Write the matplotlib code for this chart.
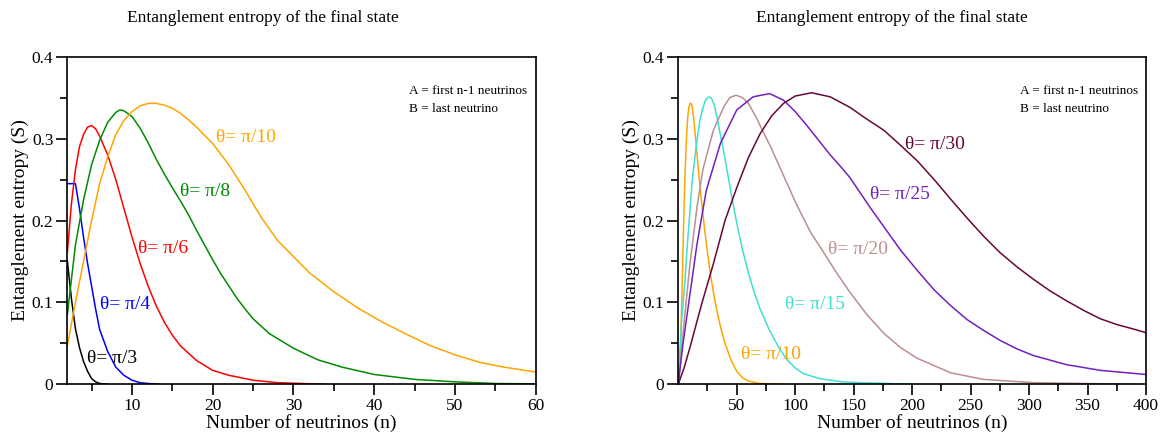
import matplotlib
matplotlib.use("Agg")
import matplotlib.pyplot as plt
from matplotlib.ticker import MultipleLocator, FixedLocator, FuncFormatter

plt.rcParams['font.family'] = ['Liberation Serif', 'DejaVu Serif']

# ---- left panel: small n, large angles ----
n_pi3 = [2, 2.5, 3, 3.5, 4, 4.5, 5, 5.5, 6, 7]
s_pi3 = [0.151, 0.105, 0.068, 0.045, 0.028, 0.016, 0.007, 0.003, 0.001, 0.0]

n_pi4 = [2, 3, 3.5, 4, 4.5, 5, 5.5, 6, 7, 8, 9, 10, 11, 12, 13.5]
s_pi4 = [0.245, 0.245, 0.215, 0.18, 0.148, 0.12, 0.092, 0.067, 0.04, 0.021, 0.011, 0.005, 0.002, 0.001, 0.0]

n_pi6 = [2, 2.5, 3, 3.5, 4, 4.5, 5, 5.5, 6, 7, 8, 9, 10, 11, 12, 13, 14, 15, 16, 18, 20, 22, 25, 28, 31, 34]
s_pi6 = [0.161, 0.22, 0.262, 0.29, 0.305, 0.314, 0.316, 0.312, 0.303, 0.28, 0.25, 0.215, 0.18, 0.148,
         0.12, 0.096, 0.076, 0.06, 0.047, 0.029, 0.017, 0.011, 0.005, 0.002, 0.001, 0.0]

n_pi8 = [2, 3, 4, 5, 6, 7, 8, 8.5, 9, 10, 11, 12, 13, 14, 15, 16, 17, 18, 19, 20, 21, 22, 23, 24, 25,
         27, 30, 33, 36, 40, 45, 50, 55, 60]
s_pi8 = [0.085, 0.17, 0.225, 0.268, 0.298, 0.32, 0.332, 0.335, 0.334, 0.327, 0.313, 0.295, 0.275, 0.257,
         0.24, 0.224, 0.207, 0.188, 0.17, 0.152, 0.135, 0.12, 0.105, 0.092, 0.08, 0.062, 0.044, 0.03,
         0.021, 0.012, 0.006, 0.003, 0.001, 0.0005]

n_pi10 = [2, 3, 4, 5, 6, 7, 8, 9, 10, 11, 12, 13, 14, 15, 16, 17, 18, 19, 20, 22, 24, 26, 28, 30, 32,
          35, 38, 41, 44, 47, 50, 53, 56, 60]
s_pi10 = [0.047, 0.10, 0.15, 0.20, 0.245, 0.278, 0.305, 0.322, 0.333, 0.340, 0.343, 0.343, 0.341, 0.337,
          0.331, 0.323, 0.314, 0.304, 0.294, 0.268, 0.237, 0.204, 0.176, 0.156, 0.136, 0.113, 0.093,
          0.076, 0.061, 0.047, 0.036, 0.027, 0.021, 0.015]

# ---- right panel: large n, small angles ----
m_pi10 = [0, 1, 2, 3, 4, 5, 6, 7, 8, 9, 10, 11, 12, 13, 14, 15, 16, 18, 20, 22, 24, 26, 28, 30, 33,
          36, 40, 45, 50, 55, 60, 70, 95]
r_pi10 = [0.0, 0.02, 0.05, 0.10, 0.16, 0.22, 0.265, 0.30, 0.325, 0.338, 0.343, 0.343, 0.338, 0.327,
          0.313, 0.298, 0.282, 0.25, 0.222, 0.196, 0.172, 0.15, 0.13, 0.113, 0.09, 0.071, 0.05, 0.03,
          0.016, 0.008, 0.004, 0.001, 0.0]

m_pi15 = [0, 1.5, 3, 5.5, 8, 10, 12, 14.5, 16.5, 18.5, 21, 23, 25, 26.6, 28.5, 31, 33, 36, 39, 42, 45,
          48, 51, 55, 60, 65, 70, 78, 86, 93, 100, 107, 121, 140, 156, 180, 200]
r_pi15 = [0.0, 0.041, 0.08, 0.122, 0.175, 0.212, 0.25, 0.28, 0.303, 0.322, 0.337, 0.346, 0.35, 0.351,
          0.349, 0.34, 0.327, 0.305, 0.283, 0.259, 0.235, 0.212, 0.19, 0.164, 0.136, 0.112, 0.092,
          0.066, 0.045, 0.03, 0.02, 0.013, 0.007, 0.003, 0.002, 0.001, 0.0]

m_pi20 = [0, 4, 10, 16, 21, 30, 39, 44, 49.4, 55, 60, 67, 73, 79, 90, 101, 113, 123, 135, 147, 156,
          162, 176, 190, 204, 233, 261, 304, 347, 390]
r_pi20 = [0.0, 0.061, 0.147, 0.216, 0.262, 0.31, 0.339, 0.35, 0.353, 0.35, 0.343, 0.325, 0.307, 0.29,
          0.255, 0.22, 0.186, 0.164, 0.137, 0.112, 0.095, 0.084, 0.062, 0.045, 0.032, 0.014, 0.006,
          0.002, 0.001, 0.0]

m_pi25 = [0, 4, 10, 16, 24, 36, 50, 64, 78, 90, 100, 110, 120, 130, 140, 147, 156, 165, 178, 190, 205,
          219, 233, 247, 262, 276, 290, 304, 332, 361, 400]
r_pi25 = [0.0, 0.049, 0.11, 0.171, 0.237, 0.294, 0.335, 0.351, 0.355, 0.347, 0.333, 0.316, 0.298, 0.28,
          0.264, 0.252, 0.233, 0.214, 0.188, 0.164, 0.138, 0.115, 0.096, 0.079, 0.065, 0.053, 0.043,
          0.035, 0.024, 0.017, 0.012]

m_pi30 = [0, 5, 10, 20, 30, 40, 50, 60, 70, 80, 90, 100, 114, 130, 147, 160, 176, 190, 205, 220, 233,
          247, 261, 275, 290, 304, 318, 332, 347, 361, 375, 388, 400]
r_pi30 = [0.0, 0.02, 0.045, 0.098, 0.147, 0.2, 0.24, 0.277, 0.306, 0.328, 0.343, 0.352, 0.356, 0.351,
          0.338, 0.325, 0.31, 0.292, 0.272, 0.248, 0.226, 0.203, 0.181, 0.161, 0.143, 0.128, 0.114,
          0.102, 0.09, 0.08, 0.073, 0.068, 0.063]

left_curves = [
    (n_pi3, s_pi3, 'black', r'θ= π/3', 4.4, 0.032),
    (n_pi4, s_pi4, 'blue', r'θ= π/4', 6.0, 0.097),
    (n_pi6, s_pi6, 'red', r'θ= π/6', 10.8, 0.166),
    (n_pi8, s_pi8, '#008b00', r'θ= π/8', 15.9, 0.235),
    (n_pi10, s_pi10, '#ffa500', r'θ= π/10', 20.4, 0.301),
]
right_curves = [
    (m_pi10, r_pi10, '#ffa500', r'θ= π/10', 54, 0.037),
    (m_pi15, r_pi15, '#40e0d0', r'θ= π/15', 91, 0.097),
    (m_pi20, r_pi20, '#bc8f8f', r'θ= π/20', 128, 0.165),
    (m_pi25, r_pi25, '#7221bc', r'θ= π/25', 164, 0.232),
    (m_pi30, r_pi30, '#67073a', r'θ= π/30', 194, 0.293),
]

fig = plt.figure(figsize=(11.63, 4.32), dpi=100)
ax1 = fig.add_axes([0.0579, 0.1104, 0.4028, 0.7583])
ax2 = fig.add_axes([0.5832, 0.1104, 0.4022, 0.7583])


def yfmt(v, pos):
    return "0" if abs(v) < 1e-9 else f"{v:.1f}"


for ax, curves in [(ax1, left_curves), (ax2, right_curves)]:
    for xs, ys, col, lab, tx, ty in curves:
        ax.plot(xs, ys, color=col, lw=1.1)
        ax.text(tx, ty, lab, color=col, fontsize=14, va='center', ha='left')
    ax.set_ylim(0, 0.4)
    ax.yaxis.set_major_locator(MultipleLocator(0.1))
    ax.yaxis.set_minor_locator(MultipleLocator(0.05))
    ax.yaxis.set_major_formatter(FuncFormatter(yfmt))
    ax.tick_params(which='both', direction='out', top=False, right=False, width=1.2, labelsize=12.5, pad=2)
    ax.tick_params(which='major', length=8)
    ax.tick_params(which='minor', length=5)
    for sp in ax.spines.values():
        sp.set_linewidth(1.2)
    ax.set_xlabel("Number of neutrinos (n)", fontsize=14, labelpad=0)
    ax.set_ylabel("Entanglement entropy (S)", fontsize=14, labelpad=2)
    ax.text(0.73, 0.895, "A = first n-1 neutrinos", transform=ax.transAxes, fontsize=9.5, va='center')
    ax.text(0.73, 0.84, "B = last neutrino", transform=ax.transAxes, fontsize=9.5, va='center')

ax1.set_xlim(2, 60)
ax1.xaxis.set_major_locator(FixedLocator([10, 20, 30, 40, 50, 60]))
ax1.xaxis.set_minor_locator(FixedLocator([5, 15, 25, 35, 45, 55]))

ax2.set_xlim(0, 400)
ax2.xaxis.set_major_locator(FixedLocator([50, 100, 150, 200, 250, 300, 350, 400]))
ax2.xaxis.set_minor_locator(FixedLocator([25, 75, 125, 175, 225, 275, 325, 375]))

fig.text(263 / 1163, 1 - 18 / 432, "Entanglement entropy of the final state", fontsize=12.5,
         ha='center', va='center')
fig.text(892 / 1163, 1 - 18 / 432, "Entanglement entropy of the final state", fontsize=12.5,
         ha='center', va='center')

fig.savefig("out.png", dpi=100)
